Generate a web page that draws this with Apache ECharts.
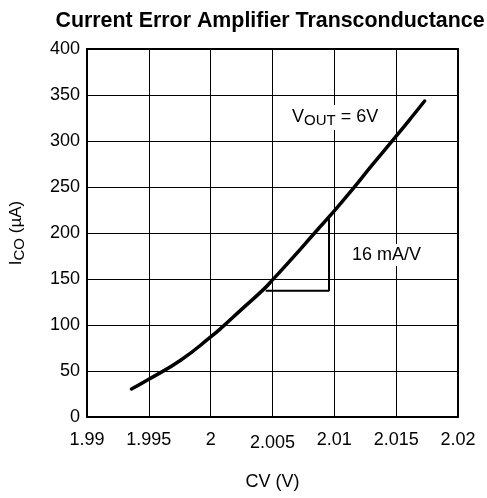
<!DOCTYPE html>
<html>
<head>
<meta charset="utf-8">
<script src="https://cdn.jsdelivr.net/npm/echarts@6/dist/echarts.min.js"></script>
<style>
html,body{margin:0;padding:0;background:#fff;}
#chart{width:487px;height:498px;}
</style>
</head>
<body>
<div id="chart"></div>
<script>
// Data
var cvValues = [1.9936, 1.995, 1.9976, 2.000, 2.001, 2.0025, 2.0043, 2.005, 2.0065, 2.0086, 2.0096, 2.0115, 2.013, 2.0148, 2.0162, 2.0173];
var icoValues = [30.5, 41, 62, 87, 98.5, 117, 139, 149, 171, 203, 218, 248, 273, 302, 325, 343.5];
// slope triangle (16 mA/V)
var triX = [2.00445, 2.00957, 2.00957];
var triY = [137.3, 137.3, 218];
var xTicks = ['1.99', '1.995', '2', '2.005', '2.01', '2.015', '2.02'];

var FONT = 'Liberation Sans, Arial, sans-serif';
var chart = echarts.init(document.getElementById('chart'));
function zip(a, b) { return a.map(function (v, i) { return [v, b[i]]; }); }

chart.setOption({
  animation: false,
  backgroundColor: '#fff',
  title: {
    text: 'Current Error Amplifier Transconductance',
    left: 265, top: 6, textAlign: 'center',
    textStyle: { fontFamily: FONT, fontSize: 21.4, fontWeight: 'bold', color: '#000' }
  },
  grid: { left: 85, right: 29, top: 49, bottom: 81, show: true, borderColor: '#000', borderWidth: 2 },
  xAxis: {
    type: 'value', min: 1.99, max: 2.02, interval: 0.005,
    name: 'CV (V)', nameLocation: 'middle', nameGap: 56,
    nameTextStyle: { fontFamily: FONT, fontSize: 18, color: '#000' },
    axisLine: { lineStyle: { color: '#000', width: 2 } },
    axisTick: { show: false },
    splitLine: { lineStyle: { color: '#000', width: 1 } },
    axisLabel: {
      margin: 14, fontFamily: FONT, fontSize: 18, color: '#000',
      formatter: function (v) {
        var i = Math.round((v - 1.99) / 0.005);
        var s = xTicks[i];
        return s === '2.005' ? '{low|' + s + '}' : s;
      },
      rich: { low: { fontFamily: FONT, fontSize: 18, color: '#000', padding: [3, 0, 0, 0] } }
    }
  },
  yAxis: {
    type: 'value', min: 0, max: 400, interval: 50,
    name: '{n|I}{s|CO}{n| (µA)}', nameLocation: 'middle', nameGap: 60, nameRotate: 90,
    nameTextStyle: {
      rich: {
        n: { fontFamily: FONT, fontSize: 17, color: '#000' },
        s: { fontFamily: FONT, fontSize: 15, color: '#000', padding: [6, 0, 0, 0] }
      }
    },
    axisLine: { lineStyle: { color: '#000', width: 2 } },
    axisTick: { show: false },
    splitLine: { lineStyle: { color: '#000', width: 1 } },
    axisLabel: { margin: 7, fontFamily: FONT, fontSize: 18, color: '#000' }
  },
  series: [
    {
      type: 'line', data: zip(cvValues, icoValues), smooth: 0.5, showSymbol: false,
      lineStyle: { color: '#000', width: 3.5, cap: 'round' }, z: 5
    },
    {
      type: 'line', data: zip(triX, triY), showSymbol: false,
      lineStyle: { color: '#000', width: 2 }, z: 4
    }
  ],
  graphic: [
    {
      type: 'text', left: 290, top: 105, z: 10,
      style: {
        text: '{n|V}{s|OUT}{n| = 6V}', backgroundColor: '#fff', padding: [2, 2, 2, 2],
        rich: {
          n: { fontFamily: FONT, fontSize: 18, fill: '#000', color: '#000' },
          s: { fontFamily: FONT, fontSize: 15, fill: '#000', color: '#000', padding: [6, 0, 0, 0] }
        }
      }
    },
    {
      type: 'text', left: 350, top: 244, z: 10,
      style: {
        text: '16 mA/V', backgroundColor: '#fff', padding: [2, 2, 2, 2],
        fontFamily: FONT, fontSize: 18, fill: '#000'
      }
    }
  ]
});
</script>
</body>
</html>
